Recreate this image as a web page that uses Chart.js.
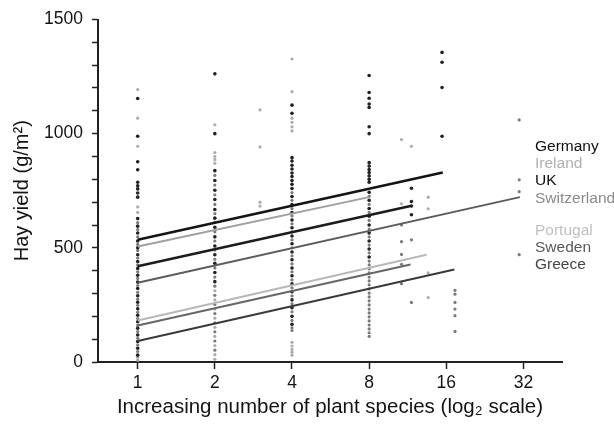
<!DOCTYPE html>
<html>
<head>
<meta charset="utf-8">
<script src="https://cdn.jsdelivr.net/npm/chart.js@4"></script>
<style>
  html, body { margin: 0; padding: 0; background: #fff; }
  #wrap { width: 614px; height: 425px; }
</style>
</head>
<body>
<div id="wrap"><canvas id="hayChart" width="614" height="425"></canvas></div>
<script>
// --- data ---
const countries = ['Germany', 'Ireland', 'UK', 'Switzerland', 'Portugal', 'Sweden', 'Greece'];
const lineStartYield = [535, 506, 419, 347, 182, 160, 92];   // fitted yield at 1 species
const lineEndSpecies = [15.5, 8, 11.6, 31, 13.4, 11.6, 17.2];
const lineEndYield = [830, 722, 683, 722, 470, 427, 405];
const lineColors = ['#141414', '#a0a0a0', '#1c1c1c', '#5c5c5c', '#b8b8b8', '#666666', '#3a3a3a'];
const lineWidths = [2.6, 2, 2.6, 2, 2, 2, 2];
const labelColors = ['#0e0e0e', '#b0b0b0', '#0e0e0e', '#8a8a8a', '#c0c0c0', '#5a5a5a', '#444444'];

const speciesTicks = [1, 2, 4, 8, 16, 32];
const yieldLabels = [0, 500, 1000, 1500];

// plots: [species, yield]
const darkDots = [
  [1,1154],[1,989],[1,877],[1,842],[1,787],[1,772],[1,758],[1,740],[1,722],[1,628],[1,595],[1,565],
  [1,530],[1,500],[1,470],[1,440],[1,410],[1,380],[1,350],[1,322],[1,290],[1,262],[1,233],[1,205],
  [1,176],[1,148],[1,118],[1,90],[1,60],[1,30],
  [2,1262],[2,1000],[2,838],[2,795],[2,752],[2,712],[2,668],[2,630],[2,590],[2,548],[2,508],[2,470],
  [2,432],[2,392],[2,352],
  [4,1125],[4,1089],[4,895],[4,880],[4,862],[4,845],[4,828],[4,812],[4,795],[4,778],[4,760],[4,725],
  [4,690],[4,655],[4,622],[4,588],[4,552],[4,518],[4,482],[4,448],[4,412],[4,378],[4,342],[4,308],
  [4,272],[4,238],[4,200],[4,165],
  [8,1255],[8,1180],[8,1155],[8,1130],[8,1115],[8,1030],[8,1000],[8,873],[8,858],[8,843],[8,830],
  [8,815],[8,800],[8,787],[8,743],[8,708],[8,672],[8,638],[8,600],[8,565],[8,530],[8,495],[8,460],
  [11.7,761],[11.7,703],[11.7,683],[11.7,645],
  [15.4,1356],[15.4,1313],[15.4,1202],[15.4,989]
];
const midDots = [
  [1,610],[1,580],[1,548],[1,515],[1,488],[1,455],[1,425],[1,395],[1,366],[1,335],[1,305],[1,275],
  [1,248],[1,218],[1,190],[1,160],[1,133],[1,104],[1,75],[1,46],
  [2,817],[2,775],[2,732],[2,690],[2,650],[2,612],[2,570],[2,530],[2,490],[2,450],[2,412],[2,372],
  [2,332],[2,292],[2,252],[2,212],[2,172],[2,132],[2,92],[2,52],
  [4,742],[4,708],[4,672],[4,640],[4,605],[4,570],[4,535],[4,500],[4,465],[4,430],[4,395],[4,360],
  [4,325],[4,290],[4,255],[4,220],[4,182],[4,150],[4,138],
  [8,725],[8,690],[8,655],[8,620],[8,582],[8,548],[8,512],[8,478],[8,442],[8,425],[8,408],[8,390],
  [8,372],[8,355],[8,338],[8,320],[8,302],[8,285],[8,268],[8,250],[8,232],[8,215],[8,198],[8,180],
  [8,162],[8,145],[8,128],[8,112],
  [10.7,600],[10.7,527],[10.7,471],[10.7,428],[10.7,343],
  [11.7,535],[11.7,261],
  [17.3,314],[17.3,297],[17.3,261],[17.3,232],[17.3,203],[17.3,134],
  [30.8,1060],[30.8,798],[30.8,746],[30.8,470]
];
const lightDots = [
  [1,1193],[1,1068],[1,945],[1,679],[1,655],[1,20],[1,8],
  [2,1039],[2,917],[2,900],[2,886],[2,870],[2,312],[2,272],[2,232],[2,192],[2,152],[2,112],[2,72],
  [2,32],[2,12],
  [3,1104],[3,942],[3,700],[3,683],
  [4,1327],[4,1184],[4,1068],[4,1050],[4,1030],[4,1012],[4,86],[4,70],[4,55],[4,43],[4,30],
  [10.7,974],[10.7,693],
  [11.7,945],
  [13.6,722],[13.6,671],[13.6,390],[13.6,282]
];

const FONT = "'Liberation Sans', Arial, Helvetica, sans-serif";
const toXY = arr => arr.map(p => ({ x: p[0], y: p[1] }));

// --- fitted lines, one dataset per country ---
const lineSets = countries.map((name, i) => ({
  label: name,
  data: [{ x: 1, y: lineStartYield[i] }, { x: lineEndSpecies[i], y: lineEndYield[i] }],
  showLine: true,
  borderColor: lineColors[i],
  borderWidth: lineWidths[i],
  pointRadius: 0,
  order: 0
}));

const dotSet = (label, arr, color, r) => ({
  label: label,
  data: toXY(arr),
  showLine: false,
  pointRadius: r,
  pointBorderWidth: 0,
  pointBackgroundColor: color,
  order: 1
});

// country names stacked on the right, drawn as plain text
const countryNames = {
  id: 'countryNames',
  afterDraw(chart) {
    const { ctx, chartArea } = chart;
    const x = chartArea.right - 27;
    let y = chartArea.top + 127;
    ctx.save();
    ctx.font = '15.5px ' + FONT;
    ctx.textBaseline = 'middle';
    ctx.textAlign = 'left';
    countries.forEach((name, i) => {
      ctx.fillStyle = labelColors[i];
      ctx.fillText(name, x, y);
      y += (i === 3) ? 32 : 17.3;
    });
    ctx.restore();
  }
};

new Chart(document.getElementById('hayChart'), {
  type: 'scatter',
  data: {
    datasets: [
      ...lineSets,
      dotSet('dark', darkDots, '#222222', 1.8),
      dotSet('mid', midDots, '#7a7a7a', 1.6),
      dotSet('light', lightDots, '#acacac', 1.6)
    ]
  },
  options: {
    responsive: false,
    animation: false,
    layout: { padding: { left: 0, right: 52, top: 15, bottom: 0 } },
    plugins: {
      legend: { display: false },
      tooltip: { enabled: false }
    },
    scales: {
      x: {
        type: 'logarithmic',
        min: 0.714,
        max: 45.25,
        afterBuildTicks: scale => { scale.ticks = speciesTicks.map(v => ({ value: v })); },
        afterFit: scale => { scale.height = 63; },
        border: { display: true, color: '#222', width: 2 },
        grid: { drawOnChartArea: false, drawTicks: true, tickLength: 7, tickColor: '#222', tickWidth: 1.5 },
        ticks: {
          color: '#141414',
          font: { family: FONT, size: 17.5 },
          padding: 4,
          maxRotation: 0,
          autoSkip: false,
          callback: v => String(v)
        },
        title: {
          display: true,
          text: 'Increasing number of plant species (log\u2082 scale)',
          color: '#141414',
          font: { family: FONT, size: 20.5 },
          padding: { top: 0, bottom: 5 }
        }
      },
      y: {
        min: 0,
        max: 1500,
        afterFit: scale => { scale.width = 98; },
        border: { display: true, color: '#222', width: 2 },
        grid: { drawOnChartArea: false, drawTicks: true, tickLength: 6, tickColor: '#222', tickWidth: 1.5 },
        ticks: {
          stepSize: 100,
          color: '#141414',
          font: { family: FONT, size: 17.5 },
          padding: 9,
          autoSkip: false,
          callback: v => yieldLabels.includes(v) ? String(v) : ''
        },
        title: {
          display: true,
          text: 'Hay yield (g/m\u00b2)',
          color: '#141414',
          font: { family: FONT, size: 20 },
          padding: { top: 10, bottom: 0 }
        }
      }
    }
  },
  plugins: [countryNames]
});
</script>
</body>
</html>
